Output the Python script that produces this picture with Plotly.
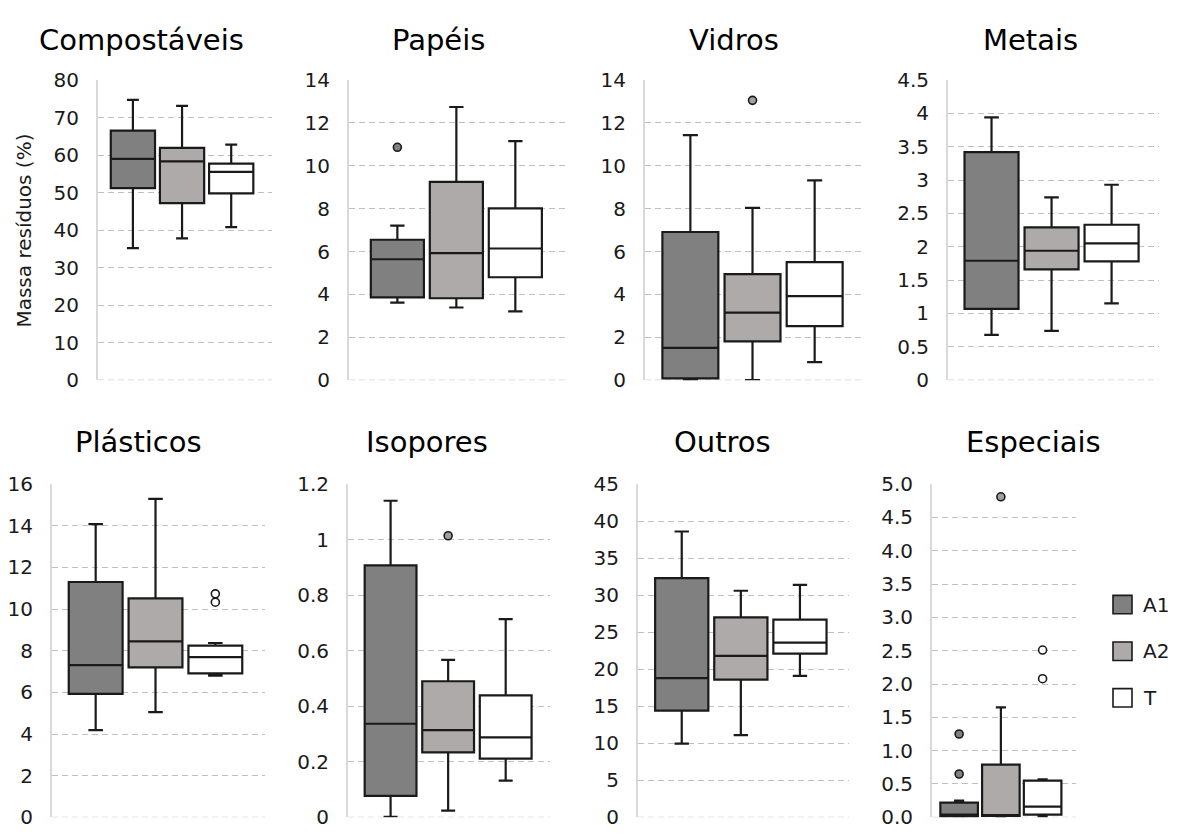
import plotly.graph_objects as go

W, H = 1179, 840

panels = ["Compostáveis", "Papéis", "Vidros", "Metais", "Plásticos", "Isopores", "Outros", "Especiais"]
groups = ["A1", "A2", "T"]

# Box statistics per panel (lower whisker, Q1, median, Q3, upper whisker)
A1_low = [35.2, 3.62, 0.0, 0.68, 4.19, 0.002, 9.95, 0.0]
A1_q1 = [51.2, 3.86, 0.08, 1.07, 5.93, 0.077, 14.4, 0.01]
A1_med = [59.0, 5.64, 1.51, 1.79, 7.31, 0.337, 18.8, 0.04]
A1_q3 = [66.5, 6.55, 6.91, 3.42, 11.30, 0.907, 32.3, 0.22]
A1_up = [74.7, 7.21, 11.43, 3.94, 14.08, 1.140, 38.6, 0.25]

A2_low = [37.8, 3.39, 0.0, 0.74, 5.05, 0.024, 11.1, 0.0]
A2_q1 = [47.2, 3.82, 1.81, 1.66, 7.20, 0.234, 18.6, 0.02]
A2_med = [58.3, 5.93, 3.15, 1.94, 8.45, 0.314, 21.8, 0.03]
A2_q3 = [61.9, 9.25, 4.95, 2.29, 10.51, 0.490, 27.0, 0.79]
A2_up = [73.1, 12.74, 8.04, 2.74, 15.29, 0.567, 30.6, 1.65]

T_low = [40.8, 3.21, 0.84, 1.15, 6.80, 0.132, 19.1, 0.01]
T_q1 = [49.8, 4.80, 2.52, 1.78, 6.91, 0.211, 22.1, 0.04]
T_med = [55.5, 6.14, 3.92, 2.05, 7.69, 0.288, 23.6, 0.16]
T_q3 = [57.7, 8.01, 5.51, 2.33, 8.24, 0.439, 26.7, 0.55]
T_up = [62.8, 11.15, 9.32, 2.93, 8.37, 0.714, 31.4, 0.57]

# Outliers per panel
A1_out = [[], [10.86], [], [], [], [], [], [1.25, 0.65]]
A2_out = [[], [], [13.05], [], [], [1.014], [], [4.81]]
T_out = [[], [], [], [], [10.33, 10.73], [], [], [2.51, 2.08]]

# Axis settings
y_max = [80, 14, 14, 4.5, 16, 1.2, 45, 5.0]
y_step = [10, 2, 2, 0.5, 2, 0.2, 5, 0.5]
y_fmt = ["", "", "", "", "", "", "", ".1f"]

# Layout geometry (pixels)
plot_x = [(98, 272), (349, 569), (645, 865), (948, 1159),
          (52, 265), (348, 550), (638, 849), (932, 1076)]
row_y = [(70, 379), (486, 829)]
title_x = [141, 438, 734, 1030, 138, 427, 722, 1033]
title_y = [29, 443]
x_ranges = [(0.29, 3.83), (0.18, 3.91), (0.27, 3.81), (0.275, 3.79),
            (0.27, 3.83), (0.26, 3.77), (0.26, 3.83), (0.35, 3.8)]

fills = {"A1": "#808080", "A2": "#AEAAAA", "T": "#FFFFFF"}
out_fills = {"A1": "#808080", "A2": "#A0A0A0", "T": "#FFFFFF"}
edge = "#1A1A1A"
FONT = "DejaVu Sans, Liberation Sans, Arial, sans-serif"

stats = {
    "A1": (A1_low, A1_q1, A1_med, A1_q3, A1_up, A1_out),
    "A2": (A2_low, A2_q1, A2_med, A2_q3, A2_up, A2_out),
    "T": (T_low, T_q1, T_med, T_q3, T_up, T_out),
}

fig = go.Figure()
layout = dict(
    width=W, height=H, margin=dict(l=0, r=0, t=0, b=0),
    paper_bgcolor="white", plot_bgcolor="white",
    font=dict(family=FONT, color="#262626"),
    showlegend=False,
)
annotations = []
shapes = []

for i, name in enumerate(panels):
    k = i + 1
    xa = "x" if k == 1 else f"x{k}"
    ya = "y" if k == 1 else f"y{k}"
    row = 0 if i < 4 else 1
    x0, x1 = plot_x[i]
    y0, y1 = row_y[row]
    for j, g in enumerate(groups):
        lo, q1, md, q3, up, outs = stats[g]
        fig.add_trace(go.Box(
            x=[j + 1], q1=[q1[i]], median=[md[i]], q3=[q3[i]],
            lowerfence=[lo[i]], upperfence=[up[i]],
            width=0.9, whiskerwidth=0.27,
            fillcolor=fills[g], line=dict(color=edge, width=2.2),
            boxpoints=False, showlegend=False, hoverinfo="skip",
            xaxis=xa, yaxis=ya, name=g,
        ))
        if outs[i]:
            fig.add_trace(go.Scatter(
                x=[j + 1] * len(outs[i]), y=outs[i], mode="markers",
                marker=dict(size=8, color=out_fills[g],
                            line=dict(color=edge, width=1.6)),
                showlegend=False, hoverinfo="skip",
                xaxis=xa, yaxis=ya,
            ))
    ticks = [round(t * y_step[i], 6) for t in range(int(round(y_max[i] / y_step[i])) + 1)]
    layout["xaxis" if k == 1 else f"xaxis{k}"] = dict(
        domain=[x0 / W, x1 / W], range=list(x_ranges[i]), anchor=ya,
        showticklabels=False, showgrid=False, zeroline=False, showline=False,
        fixedrange=True,
    )
    layout["yaxis" if k == 1 else f"yaxis{k}"] = dict(
        domain=[1 - y1 / H, 1 - y0 / H], range=[0, y_max[i]], anchor=xa,
        tickvals=ticks, tickformat=y_fmt[i],
        showgrid=True, gridcolor="#BFBFBF", griddash="6px,4px", gridwidth=1,
        zeroline=False, showline=True, linecolor="#D9D9D9", linewidth=2,
        ticks="", ticklabelstandoff=13,
        tickfont=dict(size=20, color="#1A1A1A", family=FONT),
        fixedrange=True,
        layer="below traces",
    )
    shapes.append(dict(
        type="line", xref=f"{xa} domain", yref=ya, x0=0, x1=1, y0=0, y1=0,
        line=dict(color="#BFBFBF", width=1, dash="6px,4px"), layer="below",
    ))
    annotations.append(dict(
        text=name, x=title_x[i] / W, y=1 - title_y[row] / H,
        xref="paper", yref="paper", xanchor="center", yanchor="middle",
        showarrow=False, font=dict(size=29, color="black", family=FONT),
    ))

annotations.append(dict(
    text="Massa resíduos (%)", x=24 / W, y=1 - 225 / H,
    xref="paper", yref="paper", xanchor="center", yanchor="middle",
    textangle=-90, showarrow=False,
    font=dict(size=20, color="#1A1A1A", family=FONT),
))

legend_y = [610, 658, 706]
for g, ly in zip(groups, legend_y):
    shapes.append(dict(
        type="rect", xref="paper", yref="paper",
        x0=1113 / W, x1=1132 / W, y0=1 - (ly + 9.5) / H, y1=1 - (ly - 9.5) / H,
        fillcolor=fills[g], line=dict(color=edge, width=1.6),
    ))
    annotations.append(dict(
        text=g, x=1141 / W, y=1 - ly / H, xref="paper", yref="paper",
        xanchor="left", yanchor="middle", showarrow=False,
        font=dict(size=20, color="#1A1A1A", family=FONT),
    ))

layout["annotations"] = annotations
layout["shapes"] = shapes
fig.update_layout(**layout)
fig.write_html("out.html")
